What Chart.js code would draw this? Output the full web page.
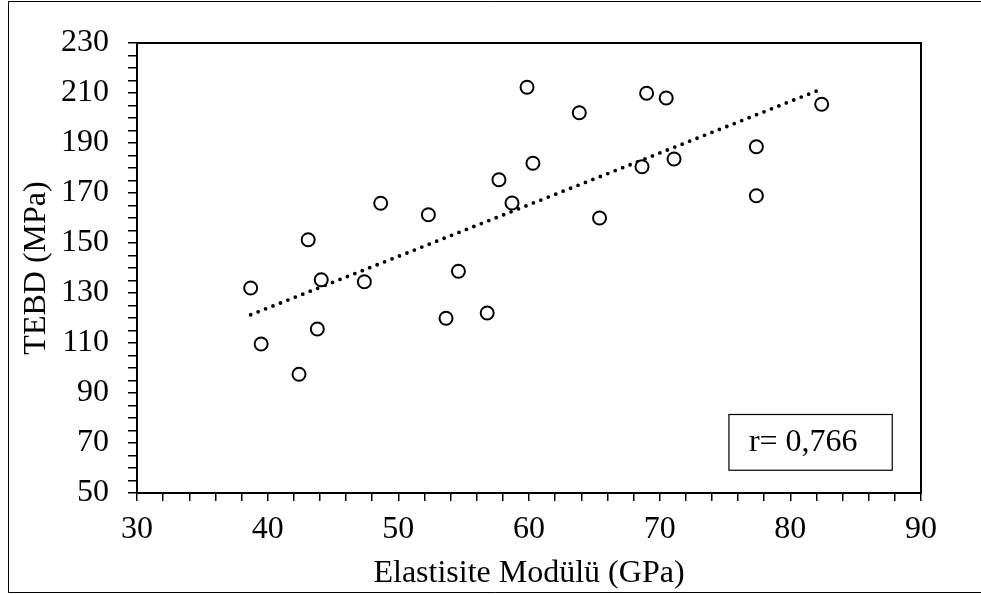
<!DOCTYPE html>
<html>
<head>
<meta charset="utf-8">
<script src="https://cdn.jsdelivr.net/npm/chart.js@4"></script>
<style>
  html, body { margin: 0; padding: 0; background: #fff; }
  #wrap { width: 981px; height: 594px; }
</style>
</head>
<body>
<div id="wrap"><canvas id="grafik"></canvas></div>
<script>
// Elastisite modülü (GPa) / TEBD (MPa)
const modul = [38.7, 39.5, 42.4, 43.1, 43.8, 44.1, 47.4, 48.65, 52.3, 53.65, 54.6, 56.8, 57.7,
  58.7, 59.85, 60.3, 63.85, 65.4, 68.65, 69.0, 70.5, 71.1, 77.4, 77.4, 82.4];
const tebd = [132, 109.6, 97.5, 151.3, 115.6, 135.3, 134.5, 165.9, 161.3, 119.9, 138.7, 122, 175.3,
  166, 212.3, 181.9, 202.1, 160, 180.5, 209.9, 208, 183.6, 188.5, 168.9, 205.5];
// trend line end points
const trendX = [38.7, 82.2];
const trendY = [121.3, 211.2];
const xLabels = [30, 40, 50, 60, 70, 80, 90];
const yLabels = [50, 70, 90, 110, 130, 150, 170, 190, 210, 230];
const rText = 'r= 0,766';
const rBox = { x1: 75.3, x2: 87.8, y1: 59.1, y2: 81.4 };

const font = 'Liberation Serif, Times New Roman, serif';

const points = modul.map((x, i) => ({ x: x, y: tebd[i] }));
const trend = trendX.map((x, i) => ({ x: x, y: trendY[i] }));

const cerceve = {
  id: 'cerceve',
  afterDraw(chart) {
    const c = chart.ctx;
    const a = chart.chartArea;
    c.save();
    // outer frame
    c.strokeStyle = '#000';
    c.lineWidth = 1;
    c.beginPath();
    c.moveTo(990, 1.5); c.lineTo(8.5, 1.5); c.lineTo(8.5, 592.5); c.lineTo(990, 592.5);
    c.stroke();
    // plot box
    c.lineWidth = 2;
    c.strokeRect(a.left, a.top, a.right - a.left, a.bottom - a.top);
    // r box
    const xs = chart.scales.x, ys = chart.scales.y;
    const bx1 = xs.getPixelForValue(rBox.x1), bx2 = xs.getPixelForValue(rBox.x2);
    const by1 = ys.getPixelForValue(rBox.y2), by2 = ys.getPixelForValue(rBox.y1);
    c.fillStyle = '#fff';
    c.fillRect(bx1, by1, bx2 - bx1, by2 - by1);
    c.lineWidth = 1.2;
    c.strokeRect(bx1, by1, bx2 - bx1, by2 - by1);
    c.fillStyle = '#000';
    c.font = '32px ' + font;
    c.textAlign = 'left';
    c.textBaseline = 'middle';
    c.fillText(rText, bx1 + 20, (by1 + by2) / 2);
    c.restore();
  }
};

new Chart(document.getElementById('grafik'), {
  type: 'scatter',
  data: {
    datasets: [{
      data: points,
      pointStyle: 'circle',
      pointRadius: 6.5,
      pointHoverRadius: 6.5,
      pointBackgroundColor: '#fff',
      pointBorderColor: '#000',
      pointBorderWidth: 2
    }, {
      data: trend,
      showLine: true,
      borderColor: '#000',
      borderWidth: 3.8,
      borderDash: [0, 8],
      borderCapStyle: 'round',
      pointRadius: 0,
      fill: false
    }]
  },
  options: {
    responsive: true,
    maintainAspectRatio: false,
    animation: false,
    layout: { padding: { top: 43, right: 60, left: 0, bottom: 0 } },
    plugins: {
      legend: { display: false },
      tooltip: { enabled: false }
    },
    scales: {
      x: {
        type: 'linear',
        min: 30,
        max: 90,
        afterFit(s) { s.height = 101; },
        ticks: {
          stepSize: 2,
          autoSkip: false,
          maxRotation: 0,
          padding: 9,
          color: '#000',
          font: { family: font, size: 32 },
          callback: v => xLabels.includes(v) ? String(v) : ''
        },
        grid: { drawOnChartArea: false, color: '#000', lineWidth: 1.5, tickLength: 8 },
        border: { color: '#000', width: 2 },
        title: {
          display: true,
          text: 'Elastisite Modülü (GPa)',
          color: '#000',
          font: { family: font, size: 32 },
          padding: { top: 0, bottom: 1 }
        }
      },
      y: {
        type: 'linear',
        min: 50,
        max: 230,
        afterFit(s) { s.width = 137; },
        ticks: {
          stepSize: 5,
          autoSkip: false,
          padding: 19,
          color: '#000',
          font: { family: font, size: 32 },
          callback: v => yLabels.includes(v) ? String(v) : ''
        },
        grid: { drawOnChartArea: false, color: '#000', lineWidth: 1.5, tickLength: 9 },
        border: { color: '#000', width: 2 },
        title: {
          display: true,
          text: 'TEBD (MPa)',
          color: '#000',
          font: { family: font, size: 32 },
          padding: { top: 17, bottom: 0 }
        }
      }
    }
  },
  plugins: [cerceve]
});
</script>
</body>
</html>
